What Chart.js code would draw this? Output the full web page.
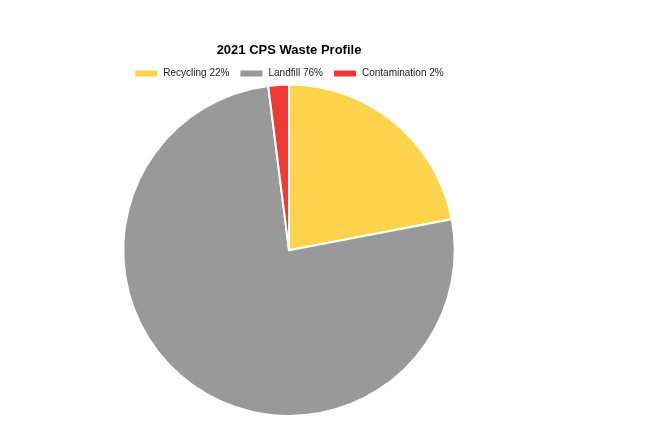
<!DOCTYPE html>
<html>
<head>
<meta charset="utf-8">
<script src="https://cdn.jsdelivr.net/npm/chart.js@4"></script>
<style>
  html, body { margin: 0; padding: 0; background: #fff; }
  #wrap { width: 578px; height: 434px; }
</style>
</head>
<body>
<div id="wrap"><canvas id="wasteChart"></canvas></div>
<script>
const labels = ['Recycling 22%', 'Landfill 76%', 'Contamination 2%'];
const shares = [22, 76, 2];
const colors = ['#FDD44C', '#999999', '#EE3935'];

document.addEventListener('DOMContentLoaded', () => {
  const ctx = document.getElementById('wasteChart').getContext('2d');
  new Chart(ctx, {
    type: 'pie',
    data: {
      labels: labels,
      datasets: [{
        data: shares,
        backgroundColor: colors,
        borderColor: '#fff',
        borderWidth: 2
      }]
    },
    options: {
      responsive: true,
      maintainAspectRatio: false,
      animation: false,
      layout: { padding: { top: 43, bottom: 17 } },
      plugins: {
        title: {
          display: true,
          text: '2021 CPS Waste Profile',
          color: '#000',
          font: { family: 'Liberation Sans, Arial, sans-serif', size: 13, weight: 'bold' },
          padding: { top: 0, bottom: 0 }
        },
        legend: {
          position: 'top',
          maxHeight: 25,
          labels: {
            color: '#222',
            boxWidth: 24,
            boxHeight: 8,
            padding: 10,
            font: { family: 'Liberation Sans, Arial, sans-serif', size: 10 }
          }
        },
        tooltip: { enabled: false }
      }
    }
  });
});
</script>
</body>
</html>
